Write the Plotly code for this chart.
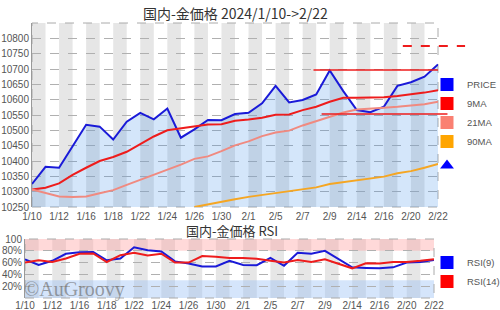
import plotly.graph_objects as go

W, H = 500, 310

dates = ["1/10","1/11","1/12","1/15","1/16","1/17","1/18","1/19","1/22","1/23","1/24",
         "1/25","1/26","1/29","1/30","1/31","2/1","2/2","2/5","2/6","2/7","2/8","2/9",
         "2/13","2/14","2/15","2/16","2/19","2/20","2/21","2/22"]

price = [10325,10381,10378,10448,10518,10512,10470,10528,10557,10536,10571,10476,10503,
         10534,10533,10553,10557,10588,10645,10591,10599,10617,10695,10628,10566,10559,
         10577,10645,10657,10675,10715]
ma9 = [10307,10313,10327,10355,10378,10400,10413,10430,10455,10480,10500,10507,10513,
       10519,10520,10531,10535,10541,10551,10552,10566,10577,10593,10606,10606,10606,
       10608,10612,10617,10623,10631]
ma21 = [10307,10295,10284,10283,10284,10295,10305,10322,10338,10355,10372,10388,10407,
        10415,10432,10451,10464,10481,10493,10499,10516,10530,10545,10558,10568,10572,
        10574,10577,10580,10585,10593]
ma90 = [None]*12 + [10250,10259,10267,10275,10283,10289,10297,10303,10308,10314,10325,
                    10331,10338,10342,10349,10360,10367,10378,10390]

rsi9 = [65.6,56,63,75,77.6,78,64,67,86,81,79,62,58.5,53.6,53.6,63,56,55.7,68,54.6,76.5,
        75,80,65.6,52,51,50.3,52,60,61,64.5]
rsi14 = [60,64,61,67,75,75.4,61,72.6,76.5,72,75,60,60,71,70,68,68,66.7,63,60,64.5,61,
         65.6,58.5,50.3,59,58.5,61,61,63,65.6]

price_ticks = [10250,10300,10350,10400,10450,10500,10550,10600,10650,10700,10750,10800]
rsi_ticks = [20, 40, 60, 80, 100]
rsi_ticktext = ["20%", "40%", "60%", "80%", "100"]

# reference levels (price, start index, end index)
ref_levels = [10697, 10775, 10553]
ref_start = [20.8, 27.4, 21.4]
ref_end = [30.0, 32.0, 30.7]
ref_dash = ["solid", "dash", "solid"]
ref_width = [1.5, 2, 1.5]

x = list(range(len(dates)))
tickpos = x[::2]
ticklab = dates[::2]

# layout geometry (pixels)
m_x0, m_x1, m_y0, m_y1 = 32, 438, 23, 207
r_x0, r_x1, r_y0, r_y1 = 25, 434, 239, 298

def px_x(p):
    return p / W
def px_y(p):
    return 1 - p / H

BLUE = "#1a1ad8"
RED = "#ee1c1c"
SALMON = "#f08a80"
ORANGE = "#f5a623"
TICKFONT = dict(family="Liberation Sans, Arial", size=10, color="#555")
LEGFONT = dict(family="Liberation Sans, Arial", size=9.5, color="#555")

fig = go.Figure()

fig.add_trace(go.Scatter(x=x, y=price, mode="lines", line=dict(color=BLUE, width=2),
                         fill="tozeroy", fillcolor="rgba(70,145,235,0.23)",
                         showlegend=False, xaxis="x", yaxis="y"))
fig.add_trace(go.Scatter(x=x, y=ma9, mode="lines", line=dict(color=RED, width=2),
                         showlegend=False, xaxis="x", yaxis="y"))
fig.add_trace(go.Scatter(x=x, y=ma21, mode="lines", line=dict(color=SALMON, width=2),
                         showlegend=False, xaxis="x", yaxis="y"))
fig.add_trace(go.Scatter(x=x, y=ma90, mode="lines", line=dict(color=ORANGE, width=2),
                         showlegend=False, xaxis="x", yaxis="y"))

fig.add_trace(go.Scatter(x=x, y=rsi9, mode="lines", line=dict(color=BLUE, width=2),
                         showlegend=False, xaxis="x2", yaxis="y2"))
fig.add_trace(go.Scatter(x=x, y=rsi14, mode="lines", line=dict(color=RED, width=2),
                         showlegend=False, xaxis="x2", yaxis="y2"))

# legend entries
for name, col in [("PRICE", "#0000ff"), ("9MA", "#ff0000"), ("21MA", "#fa8072"), ("90MA", "#ffa500")]:
    fig.add_trace(go.Scatter(x=[None], y=[None], mode="markers", name=name,
                             marker=dict(symbol="square", size=13, color=col),
                             legend="legend", legendgroup="a", xaxis="x", yaxis="y"))
fig.add_trace(go.Scatter(x=[None], y=[None], mode="markers", name=" ",
                         marker=dict(symbol="triangle-up", size=12, color="#0000ff"),
                         legend="legend", legendgroup="b", xaxis="x", yaxis="y"))
for name, col in [("RSI(9)", "#0000ff"), ("RSI(14)", "#ff0000")]:
    fig.add_trace(go.Scatter(x=[None], y=[None], mode="markers", name=name,
                             marker=dict(symbol="square", size=13, color=col),
                             legend="legend2", xaxis="x2", yaxis="y2"))

shapes = []
for i in range(0, len(x) - 1, 2):
    shapes.append(dict(type="rect", xref="x", yref="y domain", x0=i, x1=i + 1, y0=0, y1=1,
                       fillcolor="#e6e6e6", line=dict(width=0), layer="below"))
    shapes.append(dict(type="rect", xref="x2", yref="y2 domain", x0=i, x1=i + 1, y0=0, y1=1,
                       fillcolor="#e6e6e6", line=dict(width=0), layer="below"))
shapes.append(dict(type="rect", xref="x2 domain", yref="y2", x0=0, x1=1, y0=80, y1=100,
                   fillcolor="rgba(255,160,160,0.4)", line=dict(width=0), layer="below"))
shapes.append(dict(type="rect", xref="x2 domain", yref="y2", x0=0, x1=1, y0=0, y1=30,
                   fillcolor="rgba(150,190,245,0.4)", line=dict(width=0), layer="below"))
# dashed frames
shapes.append(dict(type="rect", xref="x domain", yref="y domain", x0=0, x1=1, y0=0, y1=1,
                   line=dict(color="#aaa", width=1, dash="dash"), layer="below"))
shapes.append(dict(type="rect", xref="x2 domain", yref="y2 domain", x0=0, x1=1, y0=0, y1=1,
                   line=dict(color="#aaa", width=1, dash="dash"), layer="below"))

# reference lines (paper x so they can extend past the plot)
def idx_to_paper(v):
    return px_x(m_x0 + (m_x1 - m_x0) * v / (len(x) - 1))

for lv, s, e, d, w in zip(ref_levels, ref_start, ref_end, ref_dash, ref_width):
    shapes.append(dict(type="line", xref="paper", yref="y", x0=idx_to_paper(s), x1=idx_to_paper(e),
                       y0=lv, y1=lv, line=dict(color=RED, width=w, dash=d), layer="above"))

fig.update_layout(
    width=W, height=H,
    margin=dict(l=0, r=0, t=0, b=0, autoexpand=False),
    paper_bgcolor="white", plot_bgcolor="white",
    shapes=shapes,
    xaxis=dict(domain=[px_x(m_x0), px_x(m_x1)], range=[0, len(x) - 1], tickvals=tickpos,
               ticktext=ticklab, showgrid=False, zeroline=False, tickfont=TICKFONT,
               ticks="", anchor="y", ticklabelstandoff=2),
    yaxis=dict(domain=[px_y(m_y1), px_y(m_y0)], range=[10250, 10850], tickvals=price_ticks,
               tickformat="d",
               showgrid=True, gridcolor="#b0b0b0", griddash="dash", gridwidth=1,
               zeroline=False, showline=True, linecolor="#999", tickfont=TICKFONT,
               ticks="", anchor="x"),
    xaxis2=dict(domain=[px_x(r_x0), px_x(r_x1)], range=[0, len(x) - 1], tickvals=tickpos,
                ticktext=ticklab, showgrid=False, zeroline=False, tickfont=TICKFONT,
                ticks="", anchor="y2"),
    yaxis2=dict(domain=[px_y(r_y1), px_y(r_y0)], range=[0, 100], tickvals=rsi_ticks,
                ticktext=rsi_ticktext, showgrid=True, gridcolor="#b0b0b0", griddash="dash",
                zeroline=False, showline=True, linecolor="#999", tickfont=TICKFONT,
                ticks="", anchor="x2"),
    legend=dict(x=px_x(427), y=px_y(70), xanchor="left", yanchor="top",
                font=LEGFONT, tracegroupgap=5, bgcolor="rgba(0,0,0,0)"),
    legend2=dict(x=px_x(427), y=px_y(248), xanchor="left", yanchor="top",
                 font=LEGFONT, bgcolor="rgba(0,0,0,0)"),
    annotations=[
        dict(text="国内-金価格 2024/1/10->2/22", x=px_x(235), y=px_y(13), xref="paper", yref="paper",
             showarrow=False, xanchor="center", yanchor="middle",
             font=dict(family="Noto Sans CJK JP", size=14, color="#333")),
        dict(text="国内-金価格 RSI", x=px_x(232), y=px_y(230), xref="paper", yref="paper",
             showarrow=False, xanchor="center", yanchor="middle",
             font=dict(family="Noto Sans CJK JP", size=13, color="#333")),
        dict(text="©AuGroovy", x=px_x(22), y=px_y(289), xref="paper", yref="paper",
             showarrow=False, xanchor="left", yanchor="middle",
             font=dict(family="Liberation Serif, DejaVu Serif", size=20, color="rgba(90,90,90,0.55)")),
    ],
)

fig.write_html("out.html")
